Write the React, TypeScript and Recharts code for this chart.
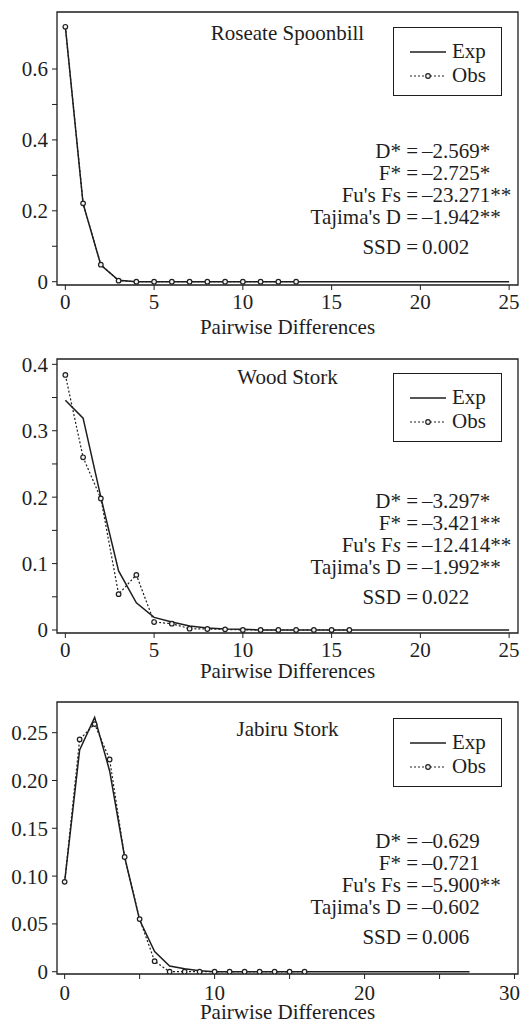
import React from 'react';
import { LineChart, Line, XAxis, YAxis, ReferenceArea, Legend } from 'recharts';

const FONT = '"Liberation Serif", "Times New Roman", Times, serif';
const INK = '#1e1e1e';
const W = 521;

// Roseate Spoonbill
const spoonbillExp = [0.72, 0.22, 0.047, 0.004, 0, 0, 0, 0, 0, 0, 0, 0, 0, 0, 0, 0, 0, 0, 0, 0, 0, 0, 0, 0, 0, 0];
const spoonbillObs = [0.719, 0.221, 0.048, 0.003, 0, 0, 0, 0, 0, 0, 0, 0, 0, 0];
const spoonbillStats = ['–2.569*', '–2.725*', '–23.271**', '–1.942**', '0.002'];

// Wood Stork
const woodExp = [0.346, 0.319, 0.2, 0.089, 0.041, 0.019, 0.012, 0.006, 0.003, 0.0015, 0.001, 0, 0, 0, 0, 0, 0, 0, 0, 0, 0, 0, 0, 0, 0, 0];
const woodObs = [0.384, 0.26, 0.198, 0.054, 0.083, 0.012, 0.0095, 0.002, 0.0015, 0.001, 0, 0, 0, 0, 0, 0, 0];
const woodStats = ['–3.297*', '–3.421**', '–12.414**', '–1.992**', '0.022'];

// Jabiru Stork
const jabiruExp = [0.094, 0.232, 0.266, 0.21, 0.12, 0.054, 0.021, 0.006, 0.003, 0.001, 0, 0, 0, 0, 0, 0, 0, 0, 0, 0, 0, 0, 0, 0, 0, 0, 0, 0];
const jabiruObs = [0.094, 0.243, 0.259, 0.222, 0.12, 0.055, 0.011, 0, 0, 0, 0, 0, 0, 0, 0, 0, 0];
const jabiruStats = ['–0.629', '–0.721', '–5.900**', '–0.602', '0.006'];

const statNames = ['D*', 'F*', "Fu's Fs", "Tajima's D", 'SSD'];

const xTicks25 = [0, 5, 10, 15, 20, 25];
const xLabels25 = ['0', '5', '10', '15', '20', '25'];
const xTicks30 = [0, 5, 10, 15, 20, 25, 30];
const xLabels30 = ['0', '', '10', '', '20', '', '30'];

const yTicksSpoonbill = [0, 0.1, 0.2, 0.3, 0.4, 0.5, 0.6];
const yLabelsSpoonbill = ['0', '', '0.2', '', '0.4', '', '0.6'];
const yTicksWood = [0, 0.05, 0.1, 0.15, 0.2, 0.25, 0.3, 0.35, 0.4];
const yLabelsWood = ['0', '', '0.1', '', '0.2', '', '0.3', '', '0.4'];
const yTicksJabiru = [0, 0.05, 0.1, 0.15, 0.2, 0.25];
const yLabelsJabiru = ['0', '0.05', '0.10', '0.15', '0.20', '0.25'];

const toRows = (exp: number[], obs: number[]) =>
  exp.map((e, i) => ({ x: i, exp: e, obs: i < obs.length ? obs[i] : null }));

const panels = [
  {
    title: 'Roseate Spoonbill',
    top: 0, height: 340, plotTop: 12, axisH: 55, tickMargin: 4, labelOffset: 6,
    xDomain: [-0.47, 25.5], xTicks: xTicks25, xLabels: xLabels25,
    yDomain: [-0.0093, 0.7608], yTicks: yTicksSpoonbill, yLabels: yLabelsSpoonbill,
    rows: toRows(spoonbillExp, spoonbillObs), stats: spoonbillStats,
    titleY: 33.3, legendTop: 27, statsY: 152, italicS: false,
  },
  {
    title: 'Wood Stork',
    top: 340, height: 342, plotTop: 19, axisH: 49, tickMargin: 4, labelOffset: 4,
    xDomain: [-0.47, 25.5], xTicks: xTicks25, xLabels: xLabels25,
    yDomain: [-0.0045, 0.408], yTicks: yTicksWood, yLabels: yLabelsWood,
    rows: toRows(woodExp, woodObs), stats: woodStats,
    titleY: 38, legendTop: 33, statsY: 162, italicS: true,
  },
  {
    title: 'Jabiru Stork',
    top: 682, height: 342, plotTop: 20, axisH: 50, tickMargin: 6, labelOffset: 5,
    xDomain: [-0.51, 30.23], xTicks: xTicks30, xLabels: xLabels30,
    yDomain: [-0.0024, 0.2821], yTicks: yTicksJabiru, yLabels: yLabelsJabiru,
    rows: toRows(jabiruExp, jabiruObs), stats: jabiruStats,
    titleY: 48, legendTop: 36, statsY: 160, italicS: false,
  },
];

const textStyle: React.CSSProperties = {
  position: 'absolute',
  fontFamily: FONT,
  fontSize: 21,
  lineHeight: '21px',
  color: INK,
  whiteSpace: 'nowrap',
  pointerEvents: 'none',
};

const LegendBox = ({ payload }: { payload?: Array<{ value: string }> }) => (
  <div style={{ width: 107, height: 67, border: `1px solid ${INK}`, background: '#fff', position: 'relative' }}>
    {(payload || []).map((entry, i) => {
      const dotted = entry.value === 'Obs';
      const cy = 24 + i * 23.5;
      return (
        <React.Fragment key={entry.value}>
          <svg width={40} height={10} style={{ position: 'absolute', left: 14, top: cy - 5 }}>
            <line x1={2} x2={38} y1={5} y2={5} stroke={INK} strokeWidth={dotted ? 1.2 : 1.5} strokeDasharray={dotted ? '2 2' : undefined} />
            {dotted && <circle cx={20} cy={5} r={2.3} fill="#f2f2f2" stroke={INK} strokeWidth={1.2} />}
          </svg>
          <div style={{ ...textStyle, left: 58, top: cy - 10.6 }}>{entry.value}</div>
        </React.Fragment>
      );
    })}
  </div>
);

const axisFont = { fill: INK, fontSize: 21, fontFamily: FONT };

// bottom tick label, pulled in so the last one stays inside the picture
const XTick = ({ x, y, payload, labels }: any) => {
  const text = labels[payload.index] ?? '';
  const half = text.length * 5.3;
  const cx = Math.min(x, W - 1 - half);
  return (
    <text x={cx} y={y} dy="0.71em" textAnchor="middle" {...axisFont}>
      {text}
    </text>
  );
};

function Panel({ p }: { p: (typeof panels)[number] }) {
  return (
    <div style={{ position: 'absolute', left: 0, top: p.top, width: W, height: p.height }}>
      <LineChart width={W} height={p.height} data={p.rows} margin={{ top: p.plotTop, right: 3, bottom: 0, left: 0 }}>
        <XAxis
          type="number"
          dataKey="x"
          domain={p.xDomain}
          ticks={p.xTicks}
          interval={0}
          allowDataOverflow
          height={p.axisH}
          axisLine={false}
          tickLine={{ stroke: INK }}
          tickSize={5}
          tickMargin={p.tickMargin}
          tick={<XTick labels={p.xLabels} />}
          label={{ value: 'Pairwise Differences', position: 'insideBottom', offset: p.labelOffset, ...axisFont }}
        />
        <YAxis
          type="number"
          domain={p.yDomain}
          ticks={p.yTicks}
          interval={0}
          allowDataOverflow
          tickFormatter={(_v: number, i: number) => p.yLabels[i]}
          width={57}
          axisLine={false}
          tickLine={{ stroke: INK }}
          tickSize={5}
          tickMargin={4}
          tick={axisFont}
        />
        <ReferenceArea
          x1={p.xDomain[0]}
          x2={p.xDomain[1]}
          y1={p.yDomain[0]}
          y2={p.yDomain[1]}
          fill="none"
          stroke={INK}
          strokeWidth={1.3}
          ifOverflow="visible"
        />
        <Line dataKey="exp" name="Exp" stroke={INK} strokeWidth={1.5} dot={false} activeDot={false} isAnimationActive={false} />
        <Line
          dataKey="obs"
          name="Obs"
          stroke={INK}
          strokeWidth={1.2}
          strokeDasharray="2 2"
          dot={{ r: 2.3, fill: '#f2f2f2', stroke: INK, strokeWidth: 1.2, strokeDasharray: 'none' }}
          activeDot={false}
          isAnimationActive={false}
        />
        <Legend
          layout="vertical"
          align="center"
          verticalAlign="middle"
          content={<LegendBox />}
          wrapperStyle={{ position: 'absolute', left: 393, top: p.legendTop, width: 109, height: 69 }}
        />
      </LineChart>
      <div style={{ ...textStyle, left: 57, width: 461, textAlign: 'center', top: p.titleY - 10.6 }}>{p.title}</div>
      {p.stats.map((v, i) => {
        const cy = p.statsY + (i < 4 ? i * 21.8 : 3 * 21.8 + 30);
        const name =
          i === 2 && p.italicS ? (
            <>
              Fu's F<i>s</i>
            </>
          ) : (
            statNames[i]
          );
        return (
          <React.Fragment key={i}>
            <div style={{ ...textStyle, right: W - 418, top: cy - 10.6 }}>
              {name} =
            </div>
            <div style={{ ...textStyle, left: 422, top: cy - 10.6 }}>{v}</div>
          </React.Fragment>
        );
      })}
    </div>
  );
}

export default function App() {
  return (
    <div style={{ position: 'absolute', left: 0, top: 0, width: W, height: 1024, background: '#fff' }}>
      {panels.map((p) => (
        <Panel key={p.title} p={p} />
      ))}
    </div>
  );
}
